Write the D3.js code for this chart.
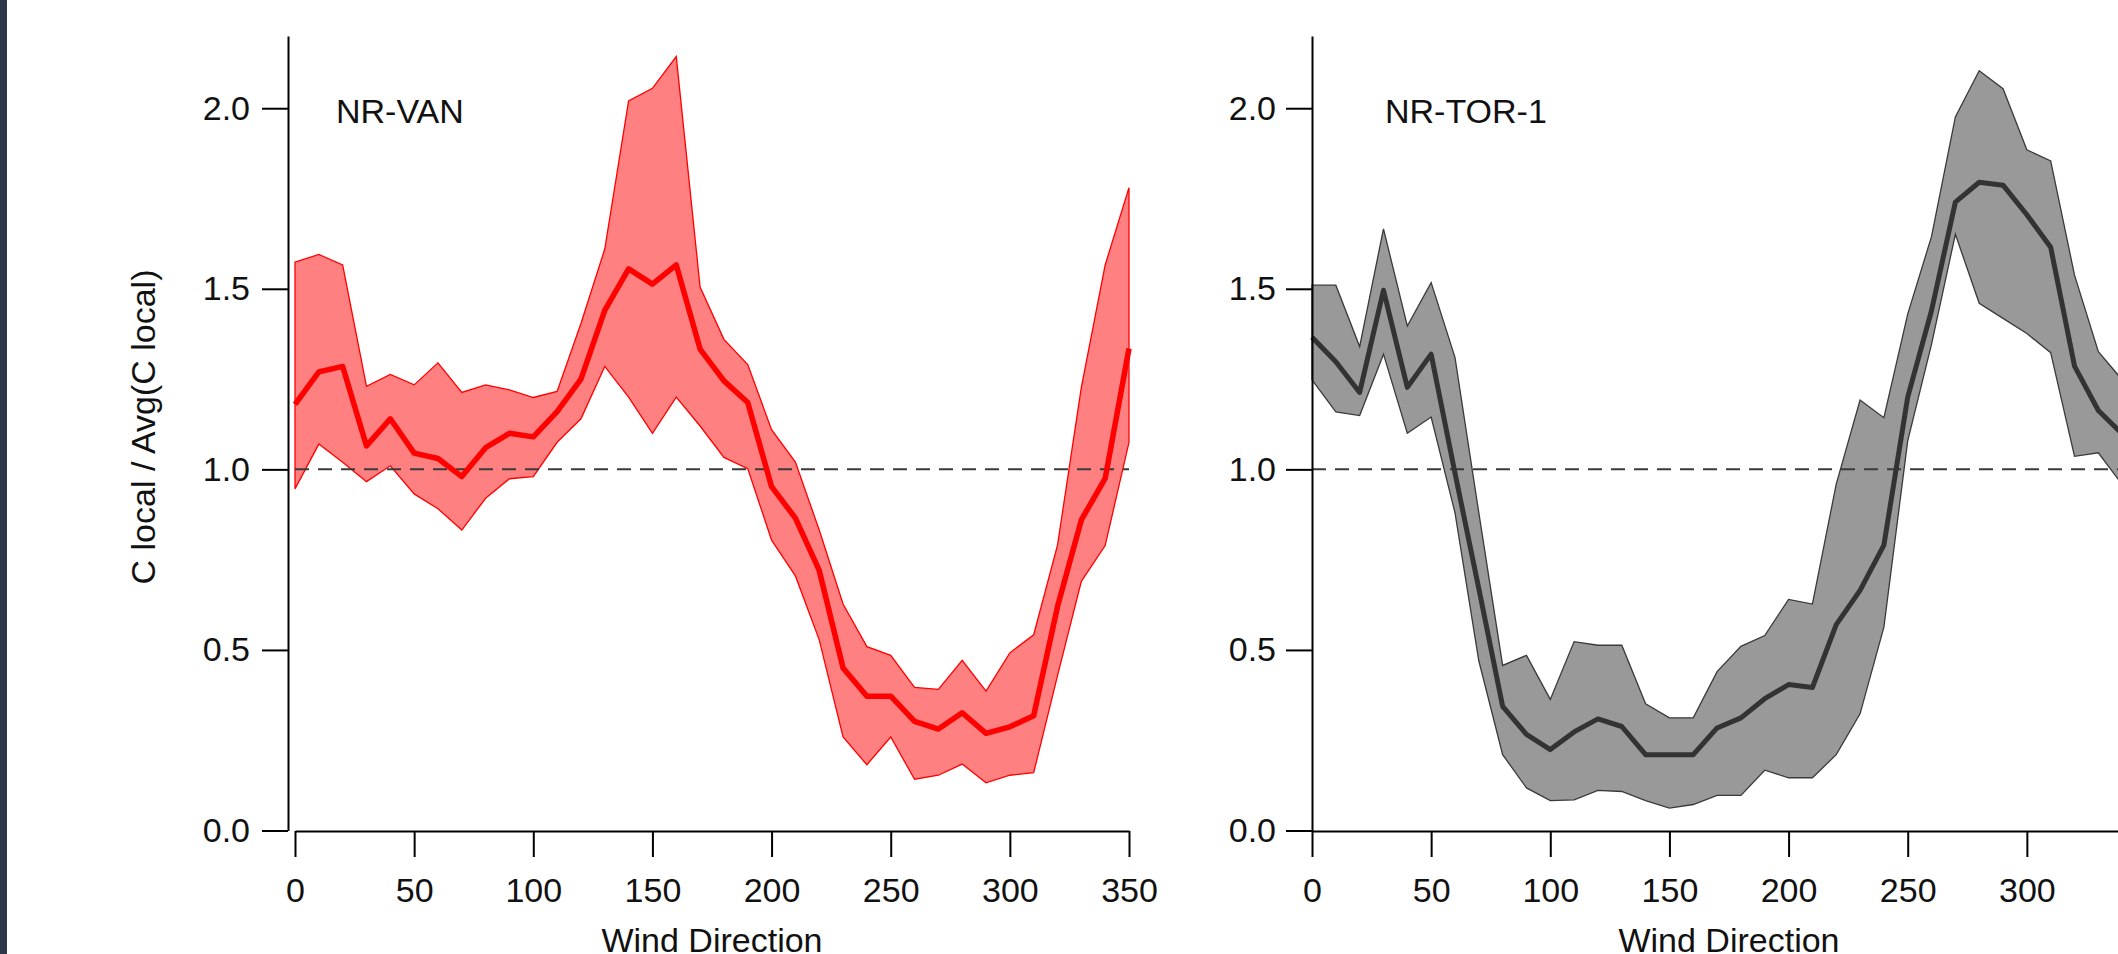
<!DOCTYPE html>
<meta charset="utf-8">
<style>
  body { margin: 0; background: #fff; overflow: hidden; }
  svg { display: block; }
  .axis path, .axis line { stroke: #000; stroke-width: 2px; }
  .axis text { font: 34px "Liberation Sans", Arial, sans-serif; fill: #111; }
  .label { font: 34px "Liberation Sans", Arial, sans-serif; fill: #111; }
  .refline { fill: none; stroke: #3a3a3a; stroke-width: 2px; stroke-dasharray: 14, 9; }
</style>
<body>
<script src="https://d3js.org/d3.v7.min.js"></script>
<script>
// wind direction bins (degrees)
var windDir = d3.range(0, 360, 10);

// NR-VAN: mean and band limits of C local / Avg(C local)
var vanMean = [1.18, 1.27, 1.285, 1.065, 1.14, 1.045, 1.03, 0.98, 1.06, 1.10,
               1.09, 1.16, 1.25, 1.44, 1.555, 1.513, 1.566, 1.333, 1.245, 1.185,
               0.952, 0.865, 0.72, 0.45, 0.372, 0.372, 0.302, 0.281, 0.326, 0.269,
               0.287, 0.318, 0.62, 0.86, 0.975, 1.335];
var vanUpper = [1.574, 1.595, 1.566, 1.23, 1.263, 1.234, 1.295, 1.213, 1.234, 1.22,
                1.199, 1.216, 1.404, 1.61, 2.02, 2.055, 2.143, 1.505, 1.36, 1.29,
                1.11, 1.02, 0.832, 0.627, 0.509, 0.485, 0.396, 0.391, 0.471, 0.386,
                0.492, 0.542, 0.79, 1.227, 1.566, 1.78];
var vanLower = [0.946, 1.07, 1.02, 0.966, 1.01, 0.932, 0.891, 0.832, 0.92, 0.974,
                0.98, 1.075, 1.14, 1.285, 1.2, 1.1, 1.2, 1.12, 1.033, 1.002,
                0.804, 0.705, 0.528, 0.259, 0.182, 0.259, 0.142, 0.153, 0.184, 0.132,
                0.153, 0.16, 0.429, 0.69, 0.789, 1.075];

// NR-TOR-1
var torMean = [1.366, 1.298, 1.213, 1.496, 1.227, 1.319, 0.99, 0.67, 0.344, 0.266,
               0.224, 0.273, 0.309, 0.288, 0.21, 0.21, 0.21, 0.284, 0.312, 0.365,
               0.404, 0.396, 0.57, 0.665, 0.79, 1.2, 1.44, 1.74, 1.795, 1.787,
               1.705, 1.615, 1.286, 1.163, 1.098, 1.03];
var torUpper = [1.51, 1.51, 1.34, 1.666, 1.397, 1.517, 1.31, 0.88, 0.457, 0.485,
                0.363, 0.523, 0.513, 0.513, 0.351, 0.312, 0.312, 0.44, 0.51, 0.54,
                0.64, 0.627, 0.959, 1.192, 1.143, 1.43, 1.645, 1.976, 2.104, 2.054,
                1.885, 1.854, 1.538, 1.326, 1.248, 1.15];
var torLower = [1.248, 1.159, 1.149, 1.319, 1.1, 1.145, 0.88, 0.47, 0.21, 0.118,
                0.083, 0.085, 0.111, 0.108, 0.083, 0.062, 0.072, 0.097, 0.097, 0.167,
                0.146, 0.146, 0.21, 0.323, 0.563, 1.079, 1.347, 1.651, 1.46, 1.418,
                1.376, 1.323, 1.036, 1.046, 0.958, 0.85];

var xTicks = [0, 50, 100, 150, 200, 250, 300, 350];
var yTicks = [0, 0.5, 1.0, 1.5, 2.0];
var refValue = 1.0;

var width = 2118, height = 954;

var svg = d3.select("body").append("svg")
    .attr("width", width)
    .attr("height", height);

// dark strip at the very left edge
svg.append("rect")
    .attr("x", 0).attr("y", 0)
    .attr("width", 7).attr("height", height)
    .attr("fill", "#2d3748");

var y = d3.scaleLinear().domain([0, 2.2]).range([830.5, 36]);

var panels = [
  { name: "NR-VAN", mean: vanMean, upper: vanUpper, lower: vanLower,
    x0: 295, yAxisX: 288, labelPad: 12, fill: "#ff8080", edge: "#ff0000", line: "#ff0000", lineW: 5.5 },
  { name: "NR-TOR-1", mean: torMean, upper: torUpper, lower: torLower,
    x0: 1312, yAxisX: 1312, labelPad: 10, fill: "#999999", edge: "#3a3a3a", line: "#333333", lineW: 5 }
];

panels.forEach(function(p) {
  var x = d3.scaleLinear().domain([0, 350]).range([p.x0, p.x0 + 834]);
  var g = svg.append("g");

  var rows = windDir.map(function(d, i) {
    return { dir: d, mean: p.mean[i], hi: p.upper[i], lo: p.lower[i] };
  });

  // band
  g.append("path")
      .datum(rows)
      .attr("fill", p.fill)
      .attr("stroke", p.edge)
      .attr("stroke-width", 1.3)
      .attr("d", d3.area()
        .x(function(d) { return x(d.dir); })
        .y0(function(d) { return y(d.lo); })
        .y1(function(d) { return y(d.hi); }));

  // reference line at 1.0
  g.append("path")
      .datum([0, 350])
      .attr("class", "refline")
      .attr("d", d3.line()
        .x(function(d) { return x(d); })
        .y(function() { return y(refValue); }));

  // mean line
  g.append("path")
      .datum(rows)
      .attr("fill", "none")
      .attr("stroke", p.line)
      .attr("stroke-width", p.lineW)
      .attr("stroke-linejoin", "round")
      .attr("d", d3.line()
        .x(function(d) { return x(d.dir); })
        .y(function(d) { return y(d.mean); }));

  // axes
  svg.append("g")
      .attr("class", "axis")
      .attr("transform", "translate(" + p.yAxisX + ",0)")
      .call(d3.axisLeft(y).tickValues(yTicks).tickSize(26).tickSizeOuter(0)
        .tickPadding(p.labelPad).tickFormat(d3.format(".1f")))
      .attr("font-size", null).attr("font-family", null);

  svg.append("g")
      .attr("class", "axis")
      .attr("transform", "translate(0,831)")
      .call(d3.axisBottom(x).tickValues(xTicks).tickSize(26).tickSizeOuter(0)
        .tickPadding(21).tickFormat(d3.format("d")))
      .attr("font-size", null).attr("font-family", null);

  // station name
  svg.append("text")
      .attr("class", "label")
      .attr("x", p.x0 + 41 + (p.x0 === 295 ? 0 : 32))
      .attr("y", 123)
      .text(p.name);

  // x title
  svg.append("text")
      .attr("class", "label")
      .attr("x", x(175))
      .attr("y", 952)
      .attr("text-anchor", "middle")
      .text("Wind Direction");
});

// y title
svg.append("text")
    .attr("class", "label")
    .attr("transform", "translate(155,427) rotate(-90)")
    .attr("text-anchor", "middle")
    .text("C local / Avg(C local)");
</script>
</body>
